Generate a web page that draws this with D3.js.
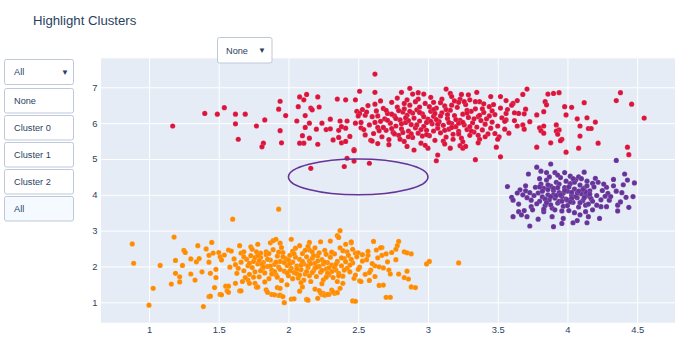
<!DOCTYPE html>
<html><head><meta charset="utf-8">
<script src="https://cdn.jsdelivr.net/npm/d3@7"></script>
<style>
body{margin:0;background:#fff;}
text{font-family:"Liberation Sans",Arial,sans-serif;}
</style>
</head><body>
<svg id="chart" width="690" height="349"></svg>
<script>
const chartTitle = "Highlight Clusters";
const xTicks = [1, 1.5, 2, 2.5, 3, 3.5, 4, 4.5];
const xTickLabels = ["1", "1.5", "2", "2.5", "3", "3.5", "4", "4.5"];
const yTicks = [1, 2, 3, 4, 5, 6, 7];
const yTickLabels = ["1", "2", "3", "4", "5", "6", "7"];
const menuButtons = ["None", "Cluster 0", "Cluster 1", "Cluster 2", "All"];
const menuActive = "All";
const shapeMenuLabel = "None";
const seriesColors = ["#FF8C00", "#DC143C", "#663399"];
const highlightShape = [2, 4, 3, 5]; // x0, y0, x1, y1

// Cluster 0 (DarkOrange)
const cluster0 = [
[0.88,2.63],[0.89,2.09],[1.00,0.92],[1.03,1.39],[1.08,2.03],[1.18,2.82],[1.19,2.17],[1.16,1.51],[1.19,1.81],[1.22,1.71],
[1.22,1.57],[1.24,2.03],[1.25,2.45],[1.26,2.39],[1.30,2.21],[1.30,1.79],[1.33,1.62],[1.35,2.58],[1.34,2.13],[1.36,2.22],
[1.39,0.88],[1.38,1.85],[1.43,1.16],[1.45,2.67],[1.41,2.49],[1.43,2.31],[1.43,2.12],[1.47,1.41],[1.44,1.81],[1.48,1.92],
[1.51,1.22],[1.46,2.37],[1.50,2.39],[1.51,2.27],[1.52,2.18],[1.54,2.32],[1.57,2.46],[1.59,2.43],[1.48,1.69],[1.55,1.45],
[1.56,1.32],[1.60,3.32],[1.63,1.81],[1.62,1.53],[1.65,1.32],[1.65,2.58],[1.66,2.37],[1.68,2.41],[1.73,2.55],[1.78,2.62],
[1.80,2.37],[1.71,1.62],[1.76,1.53],[1.77,1.42],[1.84,2.41],[1.87,2.66],[1.89,2.72],[1.91,2.76],[1.93,3.60],[1.94,2.65],
[1.88,1.22],[1.92,1.41],[1.93,1.19],[1.97,0.99],[2.02,1.09],[2.13,1.08],[2.21,1.11],[2.24,1.22],[2.29,1.22],[2.31,1.34],
[2.33,1.25],[2.02,2.76],[2.08,2.58],[2.15,2.67],[2.15,2.46],[2.23,2.69],[2.30,2.71],[2.37,3.00],[2.35,2.86],[2.41,2.62],
[2.42,2.41],[2.36,2.81],[2.61,2.70],[2.67,2.53],[2.66,2.52],[2.63,2.46],[2.79,2.70],[2.78,2.58],[2.77,2.48],[2.74,2.39],
[2.83,2.41],[2.85,2.38],[2.88,2.35],[2.67,2.31],[2.57,2.31],[2.56,2.19],[2.71,2.13],[2.77,2.19],[2.99,2.07],[3.01,2.14],
[3.22,2.10],[2.62,2.02],[2.65,1.99],[2.59,1.90],[2.58,1.83],[2.72,1.90],[2.73,1.79],[2.79,1.79],[2.85,1.87],[2.83,1.69],
[2.86,1.65],[2.65,1.47],[2.88,1.43],[2.91,1.41],[2.70,1.14],[2.46,1.04],[2.51,1.60],[2.48,2.37],[2.50,2.38],[2.46,2.48],
[2.45,2.66],[2.45,2.69],[2.25,1.25],[2.32,1.29],[1.44,1.17],[1.52,1.21],[1.57,1.45],[1.57,1.28],[1.66,1.32],[1.67,1.58],
[1.72,1.53],[1.78,1.43],[1.84,1.35],[1.85,1.28],[1.90,1.21],[1.94,1.20],[1.96,1.16],[2.04,1.10],[1.94,1.39],[2.08,1.31],
[2.10,1.43],[2.14,1.06],[2.19,1.37],[2.23,1.27],[2.22,1.33],[2.26,1.20],[2.28,1.22],[2.35,1.27],[2.37,1.39],[2.39,1.53],
[2.48,1.03],[2.52,1.58],[2.68,1.48],[2.73,1.14],
[1.62,2.05],[1.64,1.95],[1.66,2.12],[1.68,1.88],[1.70,2.20],[1.71,2.02],[1.72,1.78],[1.73,2.30],[1.74,1.97],[1.75,2.14],
[1.76,1.85],[1.77,2.41],[1.78,2.07],[1.79,1.71],[1.80,2.25],[1.81,1.93],[1.82,2.11],[1.83,1.82],[1.84,2.33],[1.85,2.00],
[1.86,1.66],[1.87,2.18],[1.88,1.90],[1.89,2.47],[1.90,2.06],[1.91,1.77],[1.92,2.29],[1.93,1.98],[1.94,2.14],[1.95,1.61],
[1.96,2.39],[1.97,1.87],[1.98,2.22],[1.99,2.03],[2.00,1.74],[2.01,2.31],[2.02,1.95],[2.03,2.12],[2.04,1.83],[2.05,2.51],
[2.06,2.01],[2.07,1.68],[2.08,2.20],[2.09,1.91],[2.10,2.36],[2.11,2.07],[2.12,1.79],[2.13,2.27],[2.14,1.97],[2.15,2.15],
[2.16,1.58],[2.17,2.41],[2.18,1.88],[2.19,2.09],[2.20,1.72],[2.21,2.30],[2.22,2.00],[2.23,1.84],[2.24,2.19],[2.25,1.63],
[2.26,2.45],[2.27,1.93],[2.28,2.11],[2.29,1.77],[2.30,2.26],[2.31,2.04],[2.32,1.69],[2.33,2.35],[2.34,1.90],[2.35,2.14],
[2.36,1.81],[2.37,2.52],[2.38,2.02],[2.39,1.73],[2.40,2.22],[2.42,1.95],[2.43,2.31],[2.44,1.85],[2.46,2.10],[2.47,1.67],
[2.49,2.27],[2.51,1.98],[2.53,2.15],[2.55,1.78],[2.57,2.42],[2.60,2.08],[2.62,1.72],[2.64,2.24],[2.68,1.96],[2.70,2.35],
[1.58,1.98],[1.61,2.21],[1.69,1.69],[1.74,2.48],[1.79,2.16],[1.83,1.57],[1.86,2.36],[1.90,1.86],[1.95,2.53],[1.99,1.49],
[2.03,2.42],[2.06,1.80],[2.11,1.62],[2.14,2.56],[2.19,1.96],[2.24,1.52],[2.27,2.34],[2.31,1.86],[2.35,1.58],[2.39,2.44],
[2.44,2.04],[2.48,1.76],[2.53,2.33],[2.58,1.61],[1.97,2.11],[2.05,2.26],[2.13,1.86],[2.21,2.16],[1.87,2.01],[1.92,1.70],
[2.01,1.88],[2.09,2.04],[2.17,2.23],[2.25,2.07],[2.33,1.98],[2.41,2.13],[1.76,2.25],[1.81,2.06],[2.15,1.74],[2.28,1.81],
[1.82,1.98],[1.85,2.20],[1.88,1.79],[1.91,2.12],[1.94,1.92],[1.96,2.27],[1.99,1.82],[2.01,2.08],[2.04,2.35],[2.06,1.93],
[2.08,1.76],[2.10,2.14],[2.12,2.45],[2.14,2.02],[2.17,1.83],[2.18,2.30],[2.20,1.98],[2.22,2.38],[2.24,1.89],[2.26,2.12],
[2.29,1.96],[2.31,2.40],[2.34,2.06],[2.36,1.74],[2.38,2.24],[1.72,2.09],[1.75,1.70],[1.78,2.30],[1.80,1.88],[2.00,2.18],
[2.03,1.66],[2.16,2.08],[2.19,2.52],[2.27,1.70],[2.40,1.90],[2.45,2.20],[2.50,1.92],[1.68,2.27],[1.93,2.40],[2.09,1.55]
];

// Cluster 1 (Crimson)
const cluster1 = [
[1.17,5.92],[1.40,6.27],[1.49,6.25],[1.54,6.43],[1.62,6.25],[1.69,6.25],[1.62,5.98],[1.64,5.55],[1.77,5.92],[1.83,6.09],
[1.82,5.44],[1.81,5.34],[1.94,6.61],[1.93,6.39],[1.98,6.21],[1.94,5.79],[1.95,5.45],[2.08,6.73],[2.11,6.65],[2.13,6.80],
[2.21,6.73],[2.07,6.46],[2.06,6.06],[2.12,6.21],[2.16,6.42],[2.17,6.37],[2.22,6.45],[2.15,6.00],[2.12,5.88],[2.20,5.83],
[2.24,6.00],[2.10,5.65],[2.15,5.58],[2.11,5.44],[2.08,5.44],[2.21,5.41],[2.27,5.82],[2.30,5.84],[2.30,6.11],[2.35,6.67],
[2.41,6.65],[2.32,5.53],[2.37,6.06],[2.42,6.06],[2.36,5.80],[2.38,5.90],[2.41,5.86],[2.36,5.60],[2.38,5.45],[2.41,5.49],
[2.44,5.63],[2.47,5.26],[2.48,6.65],[2.51,6.89],[2.48,6.00],[2.62,7.37],[2.62,6.86],[2.62,6.53],[2.52,5.87],[2.54,5.82],
[2.59,5.52],[2.64,5.43],[2.42,5.02],[2.47,4.94],[2.40,4.79],[2.16,4.74],[2.58,4.88],[2.47,5.23],
[2.49,6.33],[2.51,6.27],[2.53,6.38],[2.55,6.22],[2.50,6.20],[2.56,6.31],
[2.87,6.97],[2.81,6.86],[2.89,6.81],[2.97,6.81],[2.93,6.67],[2.85,6.65],[2.83,6.55],[3.16,6.83],[3.17,6.74],[3.10,6.67],
[3.04,6.58],[3.23,6.67],[3.22,6.58],[3.29,6.79],[3.35,6.86],[3.30,6.65],[3.37,6.60],[3.45,6.74],[3.52,6.74],[3.56,6.63],
[3.61,6.55],[3.64,6.63],[3.68,6.80],[3.71,6.95],[3.47,6.52],[3.40,6.54],[3.70,6.39],[3.69,6.26],[3.65,6.27],[3.62,6.29],
[3.56,6.27],[3.56,6.09],[3.62,6.07],[3.68,5.95],[3.69,5.83],[3.64,5.92],[3.73,6.04],[3.78,6.23],[3.83,6.32],[3.84,6.60],
[3.85,6.51],[3.86,6.81],[3.90,6.83],[3.94,6.85],[3.98,6.46],[3.99,6.23],[4.03,6.44],[3.92,5.95],[3.94,5.81],[3.92,5.78],
[3.93,5.69],[3.96,5.55],[3.95,5.51],[3.80,5.87],[3.81,5.79],[3.83,5.92],[3.83,5.72],[3.88,5.45],[3.78,5.33],[3.99,5.19],
[4.08,5.30],[4.09,5.64],[4.09,5.92],[4.07,6.12],[4.12,6.57],[4.14,6.15],[4.15,5.85],[4.17,5.85],[4.20,6.03],[4.22,5.44],
[4.35,6.63],[4.38,6.85],[4.46,6.53],[4.43,5.33],[4.44,5.12],[4.55,6.14],[3.49,5.33],[3.52,5.06],[3.34,4.98],[3.06,4.95],
[3.07,5.11],[3.16,5.30],[3.23,5.37],[3.25,5.30],
[2.58,5.95],[2.60,6.18],[2.61,5.71],[2.63,6.34],[2.64,5.88],[2.66,6.05],[2.67,5.62],[2.68,6.41],[2.69,6.12],[2.70,5.80],
[2.71,6.27],[2.72,5.54],[2.73,6.00],[2.74,6.58],[2.75,5.74],[2.76,6.20],[2.77,5.92],[2.78,6.45],[2.79,5.66],[2.80,6.09],
[2.81,5.84],[2.82,6.31],[2.83,5.49],[2.84,6.02],[2.85,6.22],[2.86,5.78],[2.87,6.50],[2.88,5.96],[2.89,5.60],[2.90,6.14],
[2.91,5.87],[2.92,6.37],[2.93,5.72],[2.94,6.06],[2.95,5.44],[2.96,6.26],[2.97,5.91],[2.98,6.55],[2.99,5.80],[3.00,6.11],
[3.01,5.65],[3.02,6.33],[3.03,5.98],[3.04,6.19],[3.05,5.52],[3.06,6.42],[3.07,5.86],[3.08,6.04],[3.09,5.73],[3.10,6.29],
[3.11,5.94],[3.12,6.48],[3.13,5.61],[3.14,6.13],[3.15,5.83],[3.16,6.36],[3.17,5.99],[3.18,5.69],[3.19,6.21],[3.20,5.90],
[3.21,6.44],[3.22,5.77],[3.23,6.08],[3.24,5.58],[3.25,6.25],[3.26,5.95],[3.27,6.52],[3.28,5.82],[3.29,6.16],[3.30,5.66],
[3.31,6.33],[3.32,6.01],[3.33,5.75],[3.34,6.40],[3.35,5.89],[3.36,6.18],[3.37,5.55],[3.38,6.07],[3.39,5.81],[3.40,6.30],
[3.41,5.97],[3.42,6.12],[3.43,5.70],[3.44,6.46],[3.45,5.86],[3.46,6.03],[3.48,6.24],[3.50,5.92],[3.51,5.62],[3.53,6.15],
[3.55,5.83],[3.57,6.38],
[2.62,6.02],[2.65,5.79],[2.70,6.36],[2.74,5.85],[2.77,6.13],[2.80,5.55],[2.83,6.40],[2.86,6.07],[2.88,5.70],[2.91,6.60],
[2.94,6.30],[2.96,5.64],[2.99,6.02],[3.01,6.46],[3.04,5.78],[3.06,6.10],[3.09,6.57],[3.11,5.50],[3.14,6.24],[3.17,5.88],
[3.19,6.62],[3.22,6.00],[3.25,5.48],[3.28,6.36],[3.31,5.78],[3.34,6.60],[3.37,6.22],[3.41,5.62],[3.44,6.20],[3.48,5.71],
[3.52,6.42],[3.55,6.05],[2.72,5.40],[2.85,5.35],[3.00,5.30],[3.12,5.42],[3.27,5.35],[3.58,5.72],[3.60,6.50],[2.66,6.62],
[2.78,6.70],[3.02,6.72],[3.24,6.80],[3.13,6.95],[2.90,5.25],[3.36,5.45],[2.55,5.67],[2.57,6.49],[2.52,6.02],[2.60,5.50],
[2.71,6.08],[2.74,6.25],[2.76,5.70],[2.79,6.35],[2.81,5.98],[2.84,6.15],[2.86,5.62],[2.89,6.28],[2.92,5.95],[2.94,6.45],
[2.97,6.18],[2.99,5.68],[3.02,6.05],[3.04,6.38],[3.07,5.97],[3.09,6.20],[3.12,5.80],[3.15,6.02],[3.17,6.50],[3.20,6.10],
[3.22,5.70],[3.25,6.02],[3.28,6.28],[3.30,5.90],[3.33,6.12],[3.36,5.66],[3.39,6.40],[2.87,6.33],[2.95,5.82],[3.05,6.27],
[3.18,5.55],[2.68,5.88],[2.82,5.74],[3.13,6.38],[3.26,6.60],[2.93,6.85],[3.46,6.34],[3.50,5.55],[2.64,6.20],[2.98,5.38]
];

// Cluster 2 (RebeccaPurple)
const cluster2 = [
[3.88,4.86],[4.35,4.96],[3.78,4.77],[3.81,4.66],[3.85,4.62],[3.91,4.62],[3.98,4.62],[4.12,4.63],[3.72,4.58],[3.57,4.23],
[3.70,4.25],[3.70,4.11],[3.60,3.93],[3.61,3.85],[3.65,3.74],[3.74,3.67],[3.75,3.58],[3.61,3.39],[3.65,3.53],[3.67,3.44],
[3.71,3.39],[3.73,3.13],[3.79,3.32],[3.83,3.53],[3.89,3.39],[3.90,3.11],[3.96,3.20],[3.97,3.34],[4.04,3.22],[4.07,3.28],
[4.09,3.44],[4.13,3.53],[4.15,3.39],[4.14,3.22],[4.23,3.34],[4.36,3.55],[4.44,3.65],[4.42,3.93],[4.39,4.06],[4.33,4.25],
[4.33,4.43],[4.41,4.58],[4.43,4.41],[4.36,3.71],[4.28,4.21],[4.29,4.04],[4.30,3.85],[4.28,3.67],[4.24,3.67],[4.21,3.71],
[4.20,4.46],[4.18,4.32],[4.16,3.95],[4.13,3.71],
[3.79,4.05],[3.80,3.82],[3.81,4.30],[3.82,3.94],[3.83,4.18],[3.84,3.70],[3.85,4.41],[3.86,4.00],[3.87,3.86],[3.88,4.24],
[3.89,3.63],[3.90,4.12],[3.91,3.91],[3.92,4.35],[3.93,3.77],[3.94,4.06],[3.95,4.48],[3.96,3.95],[3.97,3.68],[3.98,4.20],
[3.99,3.88],[4.00,4.10],[4.01,3.56],[4.02,4.31],[4.03,3.99],[4.04,3.79],[4.05,4.16],[4.06,4.42],[4.07,3.92],[4.08,3.66],
[4.09,4.27],[4.10,4.03],[4.11,3.84],[4.12,4.19],[4.13,3.97],[4.14,4.38],[4.15,3.74],[4.16,4.11],[4.17,3.89],[4.19,4.22],
[4.21,3.98],[4.22,4.35],[4.24,3.86],[4.25,4.12],[4.27,3.96],[3.76,3.98],[3.77,4.21],[3.74,3.85],[3.73,4.06],[3.68,4.00],
[3.66,4.14],[3.78,3.75],[3.83,3.60],[3.87,4.50],[3.93,4.55],[4.02,4.52],[4.08,4.50],[3.96,3.55],[4.05,3.50],[4.18,3.58],
[3.90,4.00],[3.97,4.05],[4.03,4.07],[4.00,3.85],[3.94,3.82],[4.06,3.95],[3.86,4.15],[4.13,4.08],[4.10,4.45],[3.80,4.45],
[3.71,3.92],[4.26,4.30],[4.31,3.95],[4.35,4.10],[4.38,3.80],[3.64,4.05],[3.69,3.56],[4.40,4.28],[4.47,3.95],[4.48,4.33],
[3.82,4.10],[3.84,3.88],[3.86,4.28],[3.88,3.72],[3.90,4.18],[3.92,3.98],[3.94,4.30],[3.96,3.82],[3.98,4.12],[4.00,3.70],
[4.01,4.22],[4.03,3.90],[4.05,4.35],[4.07,4.05],[4.09,3.78],[4.11,4.15],[4.12,3.92],[4.14,4.25],[3.88,3.95],[3.95,4.00],
[4.02,3.80],[4.08,4.10],[3.85,3.78],[3.99,4.38],[4.16,4.02],[3.91,3.58],[4.04,4.45],[3.80,4.22],[4.18,3.82],[3.93,4.20]
];

const clusters = [cluster0, cluster1, cluster2];

const svg = d3.select("#chart");
const W = 690, H = 349;
const plot = {left: 101, right: 675, top: 58.3, bottom: 322.7};

const x = d3.scaleLinear().domain([0.656, 4.771]).range([plot.left, plot.right]);
const y = d3.scaleLinear().domain([0.431, 7.809]).range([plot.bottom, plot.top]);

svg.append("rect").attr("width", W).attr("height", H).attr("fill", "#fff");
svg.append("rect")
  .attr("x", plot.left).attr("y", plot.top)
  .attr("width", plot.right - plot.left).attr("height", plot.bottom - plot.top)
  .attr("fill", "#E5ECF6");

// grid
const gx = svg.append("g").attr("transform", `translate(0,${plot.bottom})`)
  .call(d3.axisBottom(x).tickValues(xTicks).tickSize(-(plot.bottom - plot.top)).tickFormat(""));
gx.select(".domain").remove();
gx.selectAll("line").attr("stroke", "#fff").attr("stroke-width", 1);
const gy = svg.append("g").attr("transform", `translate(${plot.left},0)`)
  .call(d3.axisLeft(y).tickValues(yTicks).tickSize(-(plot.right - plot.left)).tickFormat(""));
gy.select(".domain").remove();
gy.selectAll("line").attr("stroke", "#fff").attr("stroke-width", 1);

// axis labels
const ax = svg.append("g").attr("transform", `translate(0,${plot.bottom})`)
  .call(d3.axisBottom(x).tickValues(xTicks).tickSize(0).tickPadding(4).tickFormat((d, i) => xTickLabels[i]));
ax.select(".domain").remove();
ax.selectAll("text").attr("fill", "#2a3f5f").style("font-size", "9.4px");
const ay = svg.append("g").attr("transform", `translate(${plot.left},0)`)
  .call(d3.axisLeft(y).tickValues(yTicks).tickSize(0).tickPadding(3.5).tickFormat((d, i) => yTickLabels[i]));
ay.select(".domain").remove();
ay.selectAll("text").attr("fill", "#2a3f5f").style("font-size", "9.4px");

// points
svg.append("clipPath").attr("id", "pc").append("rect")
  .attr("x", plot.left).attr("y", plot.top)
  .attr("width", plot.right - plot.left).attr("height", plot.bottom - plot.top);
const pg = svg.append("g").attr("clip-path", "url(#pc)");
clusters.forEach((pts, i) => {
  pg.append("g").selectAll("circle").data(pts).join("circle")
    .attr("cx", d => x(d[0])).attr("cy", d => y(d[1]))
    .attr("r", 2.6)
    .attr("fill", seriesColors[i])
    .attr("stroke", "#fff").attr("stroke-opacity", 0.3).attr("stroke-width", 0.4);
});

// highlight shape
const [sx0, sy0, sx1, sy1] = highlightShape;
svg.append("ellipse")
  .attr("cx", (x(sx0) + x(sx1)) / 2).attr("cy", (y(sy0) + y(sy1)) / 2)
  .attr("rx", Math.abs(x(sx1) - x(sx0)) / 2).attr("ry", Math.abs(y(sy1) - y(sy0)) / 2)
  .attr("fill", "none").attr("stroke", seriesColors[2]).attr("stroke-width", 1.6);

// title
svg.append("text").attr("x", 33).attr("y", 24.5)
  .attr("fill", "#2a3f5f").style("font-size", "13.2px").text(chartTitle);

// left dropdown menu (opened)
const menu = svg.append("g");
const bx = 4.5, bw = 69, bh = 24.5;
menu.append("rect").attr("x", bx).attr("y", 59.5).attr("width", bw).attr("height", 25)
  .attr("rx", 2).attr("fill", "#fff").attr("stroke", "#BEC8D9").attr("stroke-width", 1);
menu.append("text").attr("x", 14).attr("y", 72).attr("dy", "0.35em")
  .attr("fill", "#2a3f5f").style("font-size", "9.2px").text(menuActive);
menu.append("text").attr("x", 69).attr("y", 72).attr("dy", "0.35em").attr("text-anchor", "end")
  .attr("fill", "#2a3f5f").style("font-size", "8px").text("▼");
const btnY = [88.5, 115.5, 142.5, 169.5, 196.5];
menuButtons.forEach((lbl, i) => {
  menu.append("rect").attr("x", bx).attr("y", btnY[i]).attr("width", bw).attr("height", bh)
    .attr("rx", 2).attr("fill", lbl === menuActive ? "#F4FAFF" : "#fff")
    .attr("stroke", "#BEC8D9").attr("stroke-width", 1);
  menu.append("text").attr("x", 14).attr("y", btnY[i] + bh / 2).attr("dy", "0.35em")
    .attr("fill", "#2a3f5f").style("font-size", "9.2px").text(lbl);
});

// shape dropdown
const sm = svg.append("g");
sm.append("rect").attr("x", 217.5).attr("y", 37.5).attr("width", 54.5).attr("height", 25.5)
  .attr("rx", 2).attr("fill", "#fff").attr("stroke", "#BEC8D9").attr("stroke-width", 1);
sm.append("text").attr("x", 226).attr("y", 50.3).attr("dy", "0.35em")
  .attr("fill", "#2a3f5f").style("font-size", "9.2px").text(shapeMenuLabel);
sm.append("text").attr("x", 266).attr("y", 50.3).attr("dy", "0.35em").attr("text-anchor", "end")
  .attr("fill", "#2a3f5f").style("font-size", "8px").text("▼");
</script>
</body></html>
